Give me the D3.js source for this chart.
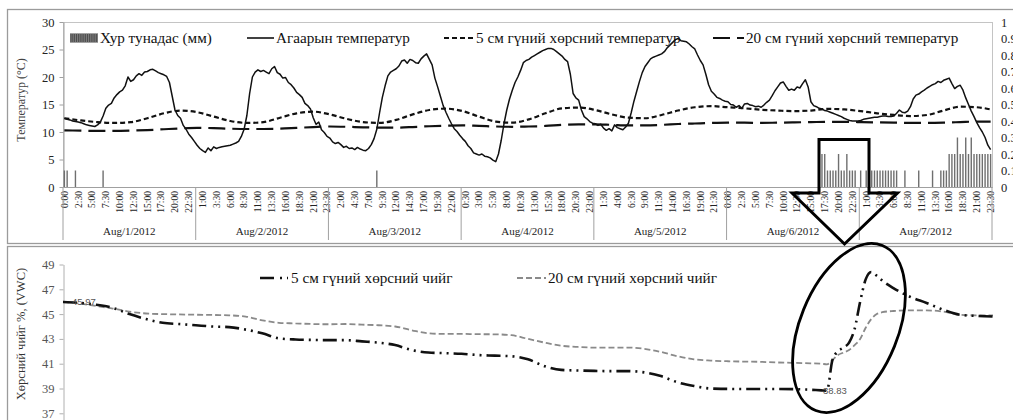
<!DOCTYPE html>
<html><head><meta charset="utf-8">
<script src="https://cdn.jsdelivr.net/npm/d3@7"></script>
<style>html,body{margin:0;padding:0;background:#fff;} svg{display:block;font-family:"Liberation Serif","Times New Roman",serif;}</style>
</head><body><svg id="c" width="1013" height="420" font-family="Liberation Serif, Times New Roman, serif"></svg>
<script>
// ---------------- data ----------------
const dayLabels = ["Aug/1/2012","Aug/2/2012","Aug/3/2012","Aug/4/2012","Aug/5/2012","Aug/6/2012","Aug/7/2012"];
const halfHourNames = d3.range(48).map(h => Math.floor(h/2) + ":" + (h%2 ? "30" : "00"));
const categories = dayLabels.flatMap(() => halfHourNames); // 336 half-hour slots
const tempTicks = [0,5,10,15,20,25,30];
const rainTicks = [0,0.1,0.2,0.3,0.4,0.5,0.6,0.7,0.8,0.9,1];
const moistTicks = [37,39,41,43,45,47,49];

// air temperature, every 30 min (Aug 1 .. Aug 7)
const airTemp = [
12.5,12.3,12.2,12.0,11.9,11.8,11.7,11.5,11.3,11.2,11.1,11.0,11.3,11.8,12.9,14.3,14.9,15.2,16.2,16.8,
17.3,17.6,18.4,20.0,19.2,19.5,20.2,20.6,20.3,20.9,21.0,21.3,21.4,21.1,20.8,20.6,20.4,20.1,19.0,16.5,
14.0,13.0,12.5,11.2,10.5,9.6,9.0,8.3,
7.6,7.0,6.6,6.3,7.1,6.6,7.3,7.0,7.2,7.3,7.4,7.5,7.6,7.8,8.0,8.3,9.2,10.5,13.0,17.0,
20.0,20.9,21.3,21.0,21.2,20.9,20.6,21.5,21.9,20.8,20.5,19.8,19.9,19.0,18.6,18.0,17.2,16.8,16.3,15.2,
14.8,14.2,12.6,11.4,11.8,10.4,9.9,9.2,
8.9,8.2,7.9,8.1,7.7,7.2,7.4,7.0,7.1,6.8,7.2,6.9,6.7,6.6,7.0,7.7,8.8,10.5,13.5,16.3,
18.4,20.2,20.9,21.2,21.5,22.0,22.9,23.1,22.5,23.2,23.0,22.6,22.5,23.3,23.8,24.2,23.2,22.2,19.8,18.2,
16.5,14.8,13.6,12.5,11.5,10.6,10.1,9.4,
8.8,8.3,7.5,7.0,6.2,6.0,5.8,6.0,5.6,5.5,5.3,4.9,4.6,6.0,8.5,11.5,14.0,16.0,17.6,19.0,
20.0,21.2,22.6,23.0,23.2,23.6,23.9,24.2,24.5,24.8,25.0,25.2,25.2,25.0,24.6,24.2,23.8,23.2,22.8,20.5,
17.0,16.2,15.8,14.0,12.8,12.4,11.9,11.6,
11.5,11.2,11.4,10.7,10.3,10.6,10.2,11.3,10.8,10.6,10.4,10.9,11.6,13.5,15.6,17.4,19.2,20.8,21.9,22.6,
23.3,23.6,23.8,24.0,24.2,24.6,25.3,25.8,26.3,26.8,27.0,26.6,26.5,26.4,26.0,25.5,25.1,24.0,23.0,22.2,
20.5,18.6,17.4,16.9,16.3,16.1,15.8,15.6,
15.5,15.0,14.9,14.5,14.8,14.3,15.1,15.2,14.9,14.8,14.6,14.7,14.5,14.9,15.4,15.8,16.6,17.5,18.2,18.9,
19.1,18.3,17.6,17.8,17.6,18.2,18.0,18.8,19.5,18.2,15.5,14.8,14.6,14.3,14.2,13.9,13.8,13.6,13.4,13.2,
13.0,12.8,12.5,12.3,12.1,12.0,12.0,12.0,
12.1,12.3,12.4,12.5,12.6,12.7,12.7,12.8,12.9,12.9,12.8,12.8,12.9,13.4,14.0,13.6,13.5,13.8,14.6,16.0,
16.7,16.9,17.3,17.6,18.0,18.3,18.6,18.8,19.2,19.0,19.4,19.6,19.8,18.8,17.9,18.3,18.5,17.6,16.2,15.0,
13.8,12.8,11.7,10.8,10.0,9.0,7.6,6.8];

// soil temperatures, every 3 hours (half-hour slot index)
const soilSlots = [0,6,12,18,24,30,36,42,48,54,60,66,72,78,84,90,96,102,108,114,120,126,132,138,144,150,156,162,168,174,
180,186,192,198,204,210,216,222,228,234,240,246,252,258,264,270,276,282,288,294,300,306,312,318,324,330,335];
const soil5Temp = [12.5,12.1,11.8,11.65,11.8,12.5,13.4,13.9,13.6,12.8,12.0,11.65,11.8,12.6,13.4,13.7,13.2,12.4,11.8,11.65,
12.2,13.2,14.0,14.25,13.8,12.8,11.9,11.7,12.3,13.4,14.3,14.45,14.0,13.2,12.6,12.5,13.1,13.9,14.5,14.7,
14.5,14.3,14.05,13.9,13.8,13.9,14.2,14.1,13.8,13.4,13.1,12.9,13.1,13.9,14.6,14.5,14.1];
const soil20Temp = [10.3,10.25,10.2,10.2,10.25,10.35,10.5,10.65,10.75,10.7,10.6,10.55,10.55,10.6,10.75,10.9,11.0,10.95,10.85,10.8,
10.8,10.9,11.05,11.15,11.2,11.1,11.0,10.95,11.0,11.1,11.3,11.4,11.4,11.3,11.2,11.2,11.3,11.45,11.55,11.65,
11.7,11.7,11.65,11.7,11.75,11.8,11.85,11.85,11.8,11.75,11.7,11.65,11.65,11.7,11.8,11.9,11.9];

// precipitation (mm) per half-hour slot
const rainSlots = [0,1,4,14,113,273,274,275,276,277,278,279,280,281,282,283,284,285,286,288,
290,291,292,293,294,295,296,297,298,299,300,301,304,309,314,317,318,319,
320,321,322,323,324,325,326,327,328,329,330,331,332,333,334,335];
const rainMm = [0.1,0.1,0.1,0.1,0.1,0.2,0.2,0.2,0.1,0.1,0.1,0.1,0.2,0.1,0.1,0.2,0.1,0.1,0.1,0.1,
0.1,0.1,0.1,0.1,0.1,0.1,0.1,0.1,0.1,0.1,0.1,0.1,0.1,0.1,0.1,0.1,0.1,0.1,
0.2,0.2,0.2,0.3,0.2,0.2,0.3,0.2,0.3,0.2,0.2,0.2,0.2,0.2,0.2,0.2];

// soil moisture (% VWC), hours since Aug 1 0:00
const moistHours = [0,3,6,9,12,15,18,21,24,27,30,33,36,39,42,45,48,51,54,57,60,63,66,69,72,75,78,81,84,87,
90,93,96,99,102,105,108,111,114,117,120,123,126,129,132,135,137,138,139,140,141,142,143,144,145,146,147,148,
150,153,156,159,162,165,168];
const moist5 = [45.97,45.9,45.75,45.5,45.0,44.6,44.3,44.2,44.1,44.0,43.95,43.75,43.45,43.05,42.95,42.92,42.9,42.9,42.8,42.7,
42.5,42.1,41.9,41.85,41.8,41.7,41.65,41.6,41.35,40.8,40.5,40.45,40.42,40.4,40.4,40.3,40.0,39.5,39.2,39.0,
38.97,38.96,38.96,38.96,38.95,38.9,38.85,38.83,41.3,42.0,42.3,42.7,43.8,46.0,47.8,48.4,48.1,47.7,
47.1,46.4,45.9,45.35,44.95,44.85,44.8];
const moist20 = [46.0,45.85,45.65,45.45,45.2,45.05,45.0,44.97,44.95,44.93,44.9,44.8,44.5,44.3,44.25,44.2,44.18,44.2,44.15,44.1,
44.0,43.7,43.45,43.4,43.4,43.38,43.37,43.3,43.0,42.7,42.45,42.35,42.3,42.3,42.3,42.2,41.95,41.6,41.35,41.25,
41.2,41.17,41.15,41.1,41.07,41.03,41.0,40.95,41.3,41.7,41.9,42.1,42.5,43.0,43.9,44.6,45.0,45.15,
45.25,45.3,45.3,45.2,44.95,44.9,44.9];

const topLegend = ["Хур тунадас (мм)","Агаарын температур","5 см гүний хөрсний температур","20 см гүний хөрсний температур"];
const bottomLegend = ["5 см гүний хөрсний чийг","20 см гүний хөрсний чийг"];

// ---------------- drawing ----------------
const SERIF = "Liberation Serif, Times New Roman, serif";
const svg = d3.select("#c");
svg.append("rect").attr("width",1013).attr("height",420).attr("fill","#fff");

// panel frames
svg.append("rect").attr("x",7.5).attr("y",9.5).attr("width",1020).attr("height",234)
  .attr("fill","none").attr("stroke","#9b9b9b").attr("stroke-width",1.3);
svg.append("rect").attr("x",7.5).attr("y",246.5).attr("width",1020).attr("height",200)
  .attr("fill","none").attr("stroke","#9b9b9b").attr("stroke-width",1.3);

// ---- top chart ----
const L = 63, R = 992, T = 22, B = 187;
const x = d3.scaleBand().domain(d3.range(categories.length)).range([L,R]);
const bw = x.bandwidth();
const cx = i => x(i) + bw/2;
const yT = d3.scaleLinear().domain([0,30]).range([B,T]);
const yR = d3.scaleLinear().domain([0,1]).range([B,T]);

svg.append("rect").attr("x",L+0.5).attr("y",T+0.5).attr("width",R-L).attr("height",B-T)
  .attr("fill","none").attr("stroke","#c4c4c4");

// left axis
const gl = svg.append("g").attr("transform",`translate(${L+0.5},0)`)
  .call(d3.axisLeft(yT).tickValues(tempTicks).tickSize(4).tickSizeOuter(0).tickPadding(5));
gl.attr("font-family",SERIF);
gl.select(".domain").attr("stroke","#a0a0a0");
gl.selectAll(".tick line").attr("stroke","#a0a0a0");
gl.selectAll("text").attr("font-size","12.5px").attr("fill","#222").attr("font-family",SERIF);

// right axis (labels only)
const gr = svg.append("g").attr("transform",`translate(${R},0)`)
  .call(d3.axisRight(yR).tickValues(rainTicks).tickSize(0).tickPadding(9)
    .tickFormat(d => d === 0 ? "0" : d === 1 ? "1" : d3.format(".1f")(d)));
gr.attr("font-family",SERIF);
gr.select(".domain").remove();
gr.selectAll("text").attr("font-size","12.5px").attr("fill","#222").attr("font-family",SERIF);

// category axis
const gx = svg.append("g").attr("transform",`translate(0,${B})`)
  .call(d3.axisBottom(x).tickValues(d3.range(0,categories.length,5)).tickSize(0)
    .tickFormat(i => categories[i]));
gx.attr("font-family",SERIF);
gx.select(".domain").attr("stroke","#a0a0a0");
gx.selectAll("text").attr("transform","rotate(-90)").attr("text-anchor","end")
  .attr("x",-4).attr("y",0).attr("dy","0.35em")
  .attr("font-size","9.5px").attr("fill","#222").attr("font-family",SERIF);

// day separators and day labels
dayLabels.forEach((d,k) => {
  const x0 = x(k*48), x1 = k === dayLabels.length-1 ? R : x((k+1)*48);
  svg.append("line").attr("x1",x0).attr("x2",x0).attr("y1",B).attr("y2",240).attr("stroke","#a0a0a0");
  svg.append("text").attr("x",(x0+x1)/2).attr("y",235).attr("text-anchor","middle")
    .attr("font-family",SERIF).attr("font-size","11px").attr("fill","#222").text(d);
});
svg.append("line").attr("x1",R).attr("x2",R).attr("y1",B).attr("y2",240).attr("stroke","#a0a0a0");

// precipitation bars
svg.append("g").selectAll("rect").data(rainSlots).join("rect")
  .attr("x",i => cx(i)-0.7).attr("width",1.4)
  .attr("y",(i,k) => yR(rainMm[k])).attr("height",(i,k) => yR(0)-yR(rainMm[k]))
  .attr("fill","#6f6f6f");

// soil temperature lines
const soilLine = vals => d3.line().x((d,k) => cx(soilSlots[k])).y(d => yT(d)).curve(d3.curveMonotoneX)(vals);
svg.append("path").attr("d",soilLine(soil20Temp)).attr("fill","none").attr("stroke","#111")
  .attr("stroke-width",2.2).attr("stroke-dasharray","17,7");
svg.append("path").attr("d",soilLine(soil5Temp)).attr("fill","none").attr("stroke","#111")
  .attr("stroke-width",2.2).attr("stroke-dasharray","5,3");
// air temperature
svg.append("path").attr("d",d3.line().x((d,i) => cx(i)).y(d => yT(d))(airTemp))
  .attr("fill","none").attr("stroke","#111").attr("stroke-width",1.5).attr("stroke-linejoin","round");

// top legend
const ly = 38;
const lg = svg.append("g").attr("font-size","15.2px").attr("fill","#111").attr("font-family",SERIF);
lg.append("rect").attr("x",70).attr("y",ly-4.5).attr("width",28).attr("height",9).attr("fill","#4d4d4d");
d3.range(71,98,2.2).forEach(px => lg.append("line").attr("x1",px).attr("x2",px).attr("y1",ly-4.5).attr("y2",ly+4.5)
  .attr("stroke","#9a9a9a").attr("stroke-width",0.7));
lg.append("text").attr("x",100).attr("y",ly+4.5).text(topLegend[0]);
lg.append("line").attr("x1",247).attr("x2",274).attr("y1",ly).attr("y2",ly).attr("stroke","#111").attr("stroke-width",1.6);
lg.append("text").attr("x",276).attr("y",ly+4.5).text(topLegend[1]);
lg.append("line").attr("x1",444).attr("x2",474).attr("y1",ly).attr("y2",ly).attr("stroke","#111").attr("stroke-width",2.2).attr("stroke-dasharray","5,3");
lg.append("text").attr("x",476).attr("y",ly+4.5).text(topLegend[2]);
lg.append("line").attr("x1",713).attr("x2",744).attr("y1",ly).attr("y2",ly).attr("stroke","#111").attr("stroke-width",2.2).attr("stroke-dasharray","17,7");
lg.append("text").attr("x",746).attr("y",ly+4.5).text(topLegend[3]);

// y title
svg.append("text").attr("transform","translate(25,100) rotate(-90)").attr("text-anchor","middle")
  .attr("font-family",SERIF).attr("font-size","12px").attr("fill","#444").text("Температур (°C)");

// ---- bottom chart ----
const xM = d3.scaleLinear().domain([0,168]).range([63,993]);
const yM = d3.scaleLinear().domain([35,49]).range([438.1,264.5]);
const gm = svg.append("g").attr("transform","translate(63.5,0)")
  .call(d3.axisLeft(yM).tickValues(moistTicks).tickSize(4).tickSizeOuter(0).tickPadding(5));
gm.attr("font-family",SERIF);
gm.select(".domain").attr("stroke","#b0b0b0");
gm.selectAll(".tick line").attr("stroke","#b0b0b0");
gm.selectAll("text").attr("font-size","12.5px").attr("fill","#555").attr("font-family",SERIF);

const mLine = vals => d3.line().x((d,k) => xM(moistHours[k])).y(d => yM(d)).curve(d3.curveMonotoneX)(vals);
svg.append("path").attr("d",mLine(moist20)).attr("fill","none").attr("stroke","#8a8a8a")
  .attr("stroke-width",1.8).attr("stroke-dasharray","6,3");
svg.append("path").attr("d",mLine(moist5)).attr("fill","none").attr("stroke","#111")
  .attr("stroke-width",2.6).attr("stroke-dasharray","14,5,2,5,2,5");

// data labels: first value and minimum of the 5 cm series
const minK = d3.minIndex(moist5);
[[0,9],[minK,-4]].forEach(([k,dx]) => {
  svg.append("text").attr("x",xM(moistHours[k])+dx).attr("y",yM(moist5[k])).attr("dy","0.35em")
    .attr("font-family","Liberation Sans, Arial, sans-serif").attr("font-size","9.5px").attr("fill","#555")
    .text(d3.format(".2f")(moist5[k]));
});

// bottom legend
const by = 278;
const bl = svg.append("g").attr("font-size","15.2px").attr("fill","#111").attr("font-family",SERIF);
bl.append("line").attr("x1",260).attr("x2",288).attr("y1",by).attr("y2",by).attr("stroke","#111").attr("stroke-width",2.6).attr("stroke-dasharray","14,6,2,5");
bl.append("text").attr("x",291).attr("y",by+4.5).text(bottomLegend[0]);
bl.append("line").attr("x1",517).attr("x2",546).attr("y1",by).attr("y2",by).attr("stroke","#8a8a8a").attr("stroke-width",1.8).attr("stroke-dasharray","6,3");
bl.append("text").attr("x",548).attr("y",by+4.5).text(bottomLegend[1]);

svg.append("text").attr("transform","translate(25,334) rotate(-90)").attr("text-anchor","middle")
  .attr("font-family",SERIF).attr("font-size","12.5px").attr("fill","#333").text("Хөрсний чийг %, (VWC)");

// ---- annotations: hollow arrow and ellipse ----
svg.append("path")
  .attr("d","M819,139.5 L869,139.5 L869,193 L897.5,193 L844.5,244 L792,193 L819,193 Z")
  .attr("fill","none").attr("stroke","#000").attr("stroke-width",3).attr("stroke-linejoin","miter");
svg.append("ellipse").attr("cx",0).attr("cy",0).attr("rx",49).attr("ry",89)
  .attr("transform","translate(849,328) rotate(22)")
  .attr("fill","none").attr("stroke","#000").attr("stroke-width",2.8);
</script></body></html>
